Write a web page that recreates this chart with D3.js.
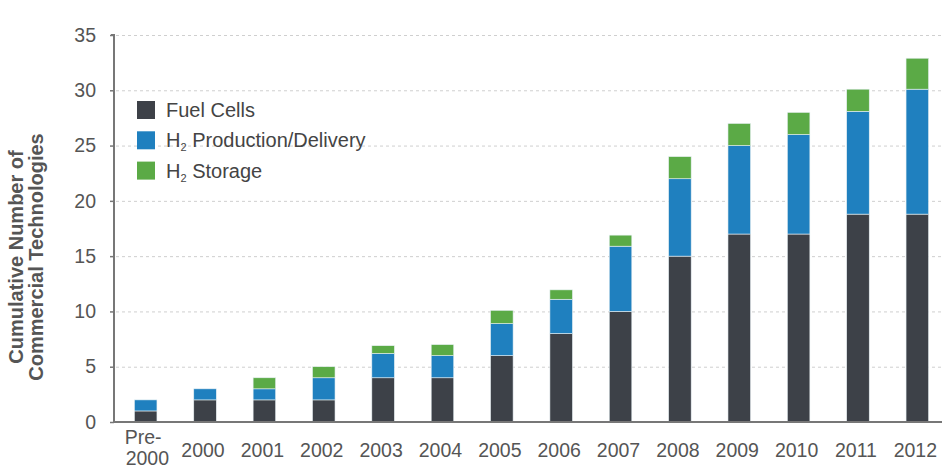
<!DOCTYPE html>
<html>
<head>
<meta charset="utf-8">
<script src="https://cdn.jsdelivr.net/npm/d3@7"></script>
<style>
  html, body { margin: 0; padding: 0; background: #fff; }
  svg { display: block; font-family: "Liberation Sans", Arial, sans-serif; }
</style>
</head>
<body>
<svg id="chart" width="946" height="468"></svg>
<script>
// ---- data ----
const categories = ["Pre-2000","2000","2001","2002","2003","2004","2005","2006","2007","2008","2009","2010","2011","2012"];
const fuelCells   = [1, 2, 2, 2, 4, 4, 6, 8, 10, 15, 17, 17, 18.8, 18.8];
const h2Production = [1, 1, 1, 2, 2.2, 2, 2.9, 3.1, 5.9, 7, 8, 9, 9.3, 11.3];
const h2Storage   = [0, 0, 1, 1, 0.7, 1, 1.2, 0.85, 1, 2, 2, 2, 2, 2.8];
const seriesNames = ["Fuel Cells", "H2 Production/Delivery", "H2 Storage"];
const seriesColors = ["#3d4148", "#1f80bf", "#5baa46"];
const yTicks = [0, 5, 10, 15, 20, 25, 30, 35];

// ---- layout ----
const svg = d3.select("#chart");
const x0 = 114, yBase = 422, yTop = 35;

const x = d3.scaleBand().domain(categories).range([116, 947]).paddingInner(0.62).paddingOuter(0.31);
const y = d3.scaleLinear().domain([0, 35]).range([yBase, yTop]);

const rows = categories.map((c, i) => ({cat: c, fc: fuelCells[i], pd: h2Production[i], st: h2Storage[i]}));
const stack = d3.stack().keys(["fc", "pd", "st"])(rows);

// gridlines
svg.append("g").selectAll("line").data(yTicks.filter(d => d > 0)).join("line")
  .attr("x1", x0 + 2).attr("x2", 942)
  .attr("y1", d => y(d) + 0.5).attr("y2", d => y(d) + 0.5)
  .attr("stroke", "#cfcfcf").attr("stroke-width", 1).attr("stroke-dasharray", "3,3");

// bars
svg.append("g").selectAll("g").data(stack).join("g")
  .attr("fill", (d, i) => seriesColors[i])
  .selectAll("rect").data(d => d.filter(s => s[1] - s[0] > 0)).join("rect")
  .attr("x", d => x(d.data.cat))
  .attr("width", x.bandwidth())
  .attr("y", d => y(d[1]))
  .attr("height", d => y(d[0]) - y(d[1]))
  .attr("stroke", "#e8f0f4").attr("stroke-width", 0.6);

// y axis
const yAxis = d3.axisLeft(y).tickValues(yTicks).tickSize(4).tickPadding(14);
const gy = svg.append("g").attr("transform", `translate(${x0},0)`).call(yAxis);
gy.select(".domain").attr("stroke", "#777").attr("stroke-width", 2).attr("d", `M-3,${yTop}H0V${yBase}`);
gy.selectAll(".tick line").attr("stroke", "#777").attr("stroke-width", 1.5);
gy.selectAll(".tick text").attr("fill", "#555").attr("font-size", 19.5)
  .attr("font-family", "Liberation Sans, Arial, sans-serif");

// x axis line
svg.append("line").attr("x1", x0 - 1).attr("x2", 942).attr("y1", yBase).attr("y2", yBase)
  .attr("stroke", "#777").attr("stroke-width", 2);

// x labels
const xl = svg.append("g").attr("fill", "#555").attr("font-size", 19.5);
categories.forEach(c => {
  const cx = x(c) + x.bandwidth() / 2;
  if (c === "Pre-2000") {
    const t = xl.append("text").attr("x", cx - 21).attr("y", 444);
    t.append("tspan").attr("x", cx - 21).text("Pre-");
    t.append("tspan").attr("x", cx - 20).attr("dy", 21).text("2000");
  } else {
    xl.append("text").attr("x", cx - 2).attr("y", 457).attr("text-anchor", "middle").text(c);
  }
});

// y title
const yt = svg.append("text").attr("transform", "translate(23,257) rotate(-90)")
  .attr("text-anchor", "middle").attr("font-size", 20).attr("font-weight", "bold").attr("fill", "#555");
yt.append("tspan").attr("x", 0).attr("y", 0).text("Cumulative Number of");
yt.append("tspan").attr("x", 0).attr("y", 20).text("Commercial Technologies");

// legend
const lg = svg.append("g");
seriesNames.forEach((name, i) => {
  const ly = 101 + i * 30.3;
  lg.append("rect").attr("x", 137).attr("y", ly).attr("width", 18).attr("height", 18).attr("fill", seriesColors[i]);
  const t = lg.append("text").attr("x", 166).attr("y", ly + 16).attr("font-size", 20).attr("fill", "#444");
  if (name.startsWith("H2")) {
    t.append("tspan").text("H");
    t.append("tspan").attr("font-size", 11).attr("dy", 4).text("2");
    t.append("tspan").attr("dy", -4).text(name.slice(2));
  } else {
    t.text(name);
  }
});
</script>
</body>
</html>
